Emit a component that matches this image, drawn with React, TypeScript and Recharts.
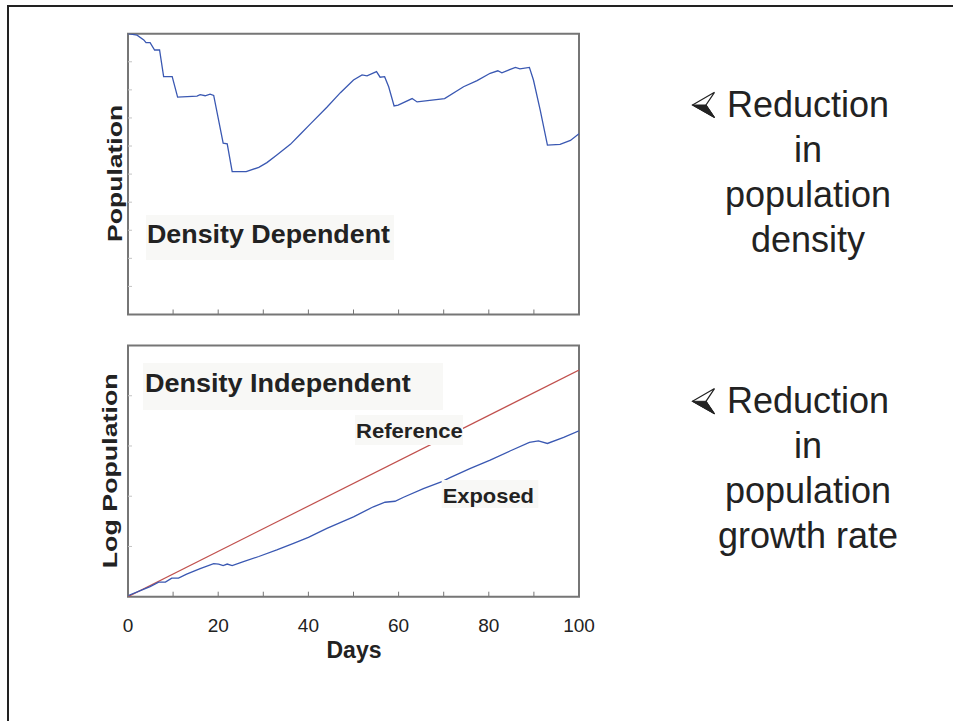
import React from "react";
import { LineChart, Line, XAxis, YAxis, ReferenceArea } from "recharts";

// ---- data ----
const ddDays = [0, 2, 3.5, 4, 4.9, 5.9, 7, 7.9, 9.8, 11, 15.3, 16, 17.1, 18.2, 19, 21.1, 22, 23.1, 26.2, 29, 30.8, 33, 36, 38.2, 40.4, 44.1, 47.1, 50, 51.9, 53, 55.1, 55.9, 56.9, 57.8, 59, 59.9, 63, 64.1, 70.2, 74.4, 77.4, 80.3, 82, 82.9, 85.9, 86.9, 89, 89.9, 91.4, 93, 95.8, 98.1, 100];
const ddPopulation = [10, 9.95, 9.78, 9.68, 9.68, 9.42, 9.42, 8.47, 8.47, 7.74, 7.78, 7.83, 7.79, 7.85, 7.8, 6.1, 6.08, 5.09, 5.09, 5.24, 5.41, 5.68, 6.06, 6.42, 6.78, 7.38, 7.9, 8.35, 8.53, 8.5, 8.65, 8.45, 8.47, 8.11, 7.43, 7.46, 7.69, 7.57, 7.69, 8.11, 8.33, 8.59, 8.68, 8.61, 8.8, 8.75, 8.8, 8.35, 7.28, 6.03, 6.06, 6.2, 6.44];

const refDays = [0, 100];
const refLogPop = [0, 4.51];

const expDays = [0, 4.9, 6.8, 8.3, 9.7, 11.2, 13, 16, 19, 20.1, 21.1, 22, 23.1, 25.6, 29, 33, 36.7, 40, 44.1, 50, 54.4, 57, 59.2, 61.1, 65.5, 69.6, 71.4, 75.8, 80.3, 84.7, 89, 91, 93, 96.6, 100];
const expLogPop = [0.02, 0.2, 0.29, 0.29, 0.37, 0.37, 0.45, 0.56, 0.66, 0.65, 0.62, 0.65, 0.62, 0.7, 0.8, 0.93, 1.06, 1.18, 1.36, 1.59, 1.79, 1.88, 1.9, 1.98, 2.15, 2.29, 2.37, 2.55, 2.72, 2.9, 3.07, 3.1, 3.05, 3.17, 3.3];

const xTicks = [0, 10, 20, 30, 40, 50, 60, 70, 80, 90, 100];
const xTickLabels = ["0", "", "20", "", "40", "", "60", "", "80", "", "100"];
const topYTicks = [1, 2, 3, 4, 5, 6, 7, 8, 9];
const botYTicks = [1, 2, 3, 4];

const ddData = ddDays.map((d, i) => ({ day: d, v: ddPopulation[i] }));
const refData = refDays.map((d, i) => ({ day: d, v: refLogPop[i] }));
const expData = expDays.map((d, i) => ({ day: d, v: expLogPop[i] }));

const FONT = "'Liberation Sans', Arial, Helvetica, sans-serif";
const BLUE = "#3a58b2";
const RED = "#c0504d";
const FRAME = "#767676";
const TEXT = "#222222";

const W = 953;
const H = 721;
const X_AXIS_H = 30;
const Y_AXIS_W = 60;

const XTickInside = (p: any) => (
  <g>
    <line x1={p.x} x2={p.x} y1={p.y - 5} y2={p.y} stroke={FRAME} strokeWidth={1} />
  </g>
);

const XTickLabeled = (p: any) => {
  const idx = xTicks.indexOf(p.payload.value);
  const lbl = idx >= 0 ? xTickLabels[idx] : "";
  return (
    <g>
      <line x1={p.x} x2={p.x} y1={p.y - 5} y2={p.y} stroke={FRAME} strokeWidth={1} />
      {lbl !== "" && (
        <text x={p.x} y={p.y + 35} textAnchor="middle" fontSize={19} fill={TEXT} fontFamily={FONT}>
          {lbl}
        </text>
      )}
    </g>
  );
};

const YTickInside = (p: any) => (
  <line x1={p.x} x2={p.x + 4} y1={p.y} y2={p.y} stroke="#c4c4c4" strokeWidth={1} />
);

const Arrow = ({ dy }: { dy: number }) => (
  <g transform={`translate(0, ${dy})`}>
    <polygon points="692.5,105 714.5,92.3 706,105 714.5,117.5" fill="#ffffff" stroke={TEXT} strokeWidth={1.2} strokeLinejoin="miter" />
    <polygon points="692.5,105 706,105 714.5,117.5" fill={TEXT} stroke={TEXT} strokeWidth={1} />
  </g>
);

const SideText = ({ lines, baselines }: { lines: string[]; baselines: number[] }) => (
  <g>
    {lines.map((l, i) => (
      <text key={i} x={808} y={baselines[i]} textAnchor="middle" fontSize={36} fill={TEXT} fontFamily={FONT}>
        {l}
      </text>
    ))}
  </g>
);

export default function App() {
  return (
    <div style={{ position: "absolute", left: 0, top: 0, width: W, height: H, background: "#ffffff", overflow: "hidden" }}>
      {/* Top chart: density dependent */}
      <div style={{ position: "absolute", left: 0, top: 0 }}>
        <LineChart width={W} height={H} data={ddData} margin={{ top: 33.7, left: 128 - Y_AXIS_W, right: 374, bottom: 721 - 314.5 - X_AXIS_H }}>
          <XAxis dataKey="day" type="number" domain={[0, 100]} ticks={xTicks} interval={0} axisLine={false} tickLine={false} tickSize={0} tickMargin={0} height={X_AXIS_H} tick={XTickInside} allowDataOverflow />
          <YAxis type="number" domain={[0, 10]} ticks={topYTicks} interval={0} axisLine={false} tickLine={false} tickSize={0} tickMargin={0} width={Y_AXIS_W} tick={YTickInside} allowDataOverflow />
          <ReferenceArea x1={0} x2={100} y1={0} y2={10} fill="none" stroke={FRAME} strokeWidth={2} />
          <Line dataKey="v" type="linear" stroke={BLUE} strokeWidth={1.3} dot={false} isAnimationActive={false} />
        </LineChart>
      </div>

      {/* Bottom chart: density independent */}
      <div style={{ position: "absolute", left: 0, top: 0 }}>
        <LineChart width={W} height={H} margin={{ top: 345.5, left: 128 - Y_AXIS_W, right: 374, bottom: 721 - 596.7 - X_AXIS_H }}>
          <XAxis dataKey="day" type="number" domain={[0, 100]} ticks={xTicks} interval={0} axisLine={false} tickLine={false} tickSize={0} tickMargin={0} height={X_AXIS_H} tick={XTickLabeled} allowDataOverflow />
          <YAxis type="number" domain={[0, 5]} ticks={botYTicks} interval={0} axisLine={false} tickLine={false} tickSize={0} tickMargin={0} width={Y_AXIS_W} tick={YTickInside} allowDataOverflow />
          <ReferenceArea x1={0} x2={100} y1={0} y2={5} fill="none" stroke={FRAME} strokeWidth={2} />
          <Line data={refData} dataKey="v" type="linear" stroke={RED} strokeWidth={1.2} dot={false} isAnimationActive={false} />
          <Line data={expData} dataKey="v" type="linear" stroke={BLUE} strokeWidth={1.3} dot={false} isAnimationActive={false} />
        </LineChart>
      </div>

      {/* Annotations */}
      <svg width={W} height={H} style={{ position: "absolute", left: 0, top: 0, pointerEvents: "none" }}>
        {/* slide frame */}
        <line x1={7} y1={6} x2={W} y2={6} stroke="#222" strokeWidth={2} />
        <line x1={8} y1={5} x2={8} y2={H} stroke="#222" strokeWidth={2} />

        {/* axis titles */}
        <text transform="translate(121.7,173.4) rotate(-90)" textAnchor="middle" fontSize={21} fontWeight="bold" fill={TEXT} fontFamily={FONT} textLength={137} lengthAdjust="spacingAndGlyphs">
          Population
        </text>
        <text transform="translate(116.7,470.8) rotate(-90)" textAnchor="middle" fontSize={21} fontWeight="bold" fill={TEXT} fontFamily={FONT} textLength={195} lengthAdjust="spacingAndGlyphs">
          Log Population
        </text>
        <text x={354} y={658.3} textAnchor="middle" fontSize={23} fontWeight="bold" fill={TEXT} fontFamily={FONT}>
          Days
        </text>

        {/* in-plot labels */}
        <rect x={146} y={215} width={248} height={45} fill="#f8f8f6" />
        <text x={147} y={242.7} fontSize={25} fontWeight="bold" fill={TEXT} fontFamily={FONT} textLength={243} lengthAdjust="spacingAndGlyphs">
          Density Dependent
        </text>

        <rect x={143} y={363} width={300} height={47} fill="#f8f8f6" />
        <text x={145} y={391.7} fontSize={26} fontWeight="bold" fill={TEXT} fontFamily={FONT} textLength={265.7} lengthAdjust="spacingAndGlyphs">
          Density Independent
        </text>

        <rect x={355} y={415} width={108} height={30} fill="#f8f8f6" />
        <text x={356} y={438.3} fontSize={21} fontWeight="bold" fill={TEXT} fontFamily={FONT} textLength={106.7} lengthAdjust="spacingAndGlyphs">
          Reference
        </text>

        <rect x={441.7} y={480} width={96.6} height={28} fill="#f8f8f6" />
        <text x={442.7} y={503.3} fontSize={21} fontWeight="bold" fill={TEXT} fontFamily={FONT} textLength={91.3} lengthAdjust="spacingAndGlyphs">
          Exposed
        </text>

        {/* side notes */}
        <Arrow dy={0} />
        <SideText lines={["Reduction", "in", "population", "density"]} baselines={[116.7, 161.7, 206.7, 251.7]} />
        <Arrow dy={296.3} />
        <SideText lines={["Reduction", "in", "population", "growth rate"]} baselines={[413.3, 458.3, 503.3, 548]} />
      </svg>
    </div>
  );
}
